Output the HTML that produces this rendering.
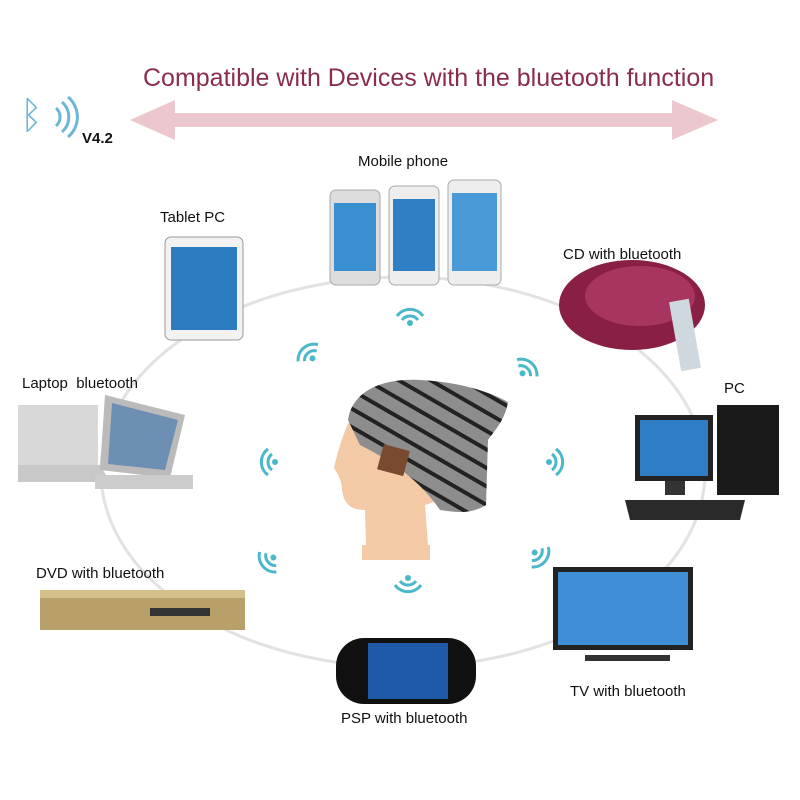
<!DOCTYPE html>
<html><head><meta charset="utf-8"><style>
body{margin:0;width:800px;height:800px;background:#fff;position:relative;overflow:hidden;font-family:"Liberation Sans",sans-serif}
.l{position:absolute;font-size:15px;color:#111;white-space:pre}
.a{position:absolute}
</style></head><body>
<svg class="a" style="left:0;top:0" width="800" height="800">
<defs>
<pattern id="st" width="16" height="16" patternUnits="userSpaceOnUse" patternTransform="rotate(30)"><rect width="16" height="16" fill="#8d8d8d"/><rect width="16" height="4" fill="#222"/></pattern>
<g id="w"><path d="M-8,4 A10,10 0 0 1 8,4" fill="none" stroke="#4bb8c9" stroke-width="3"/><path d="M-13,0 A16,16 0 0 1 13,0" fill="none" stroke="#4bb8c9" stroke-width="3"/><circle cx="0" cy="7" r="3" fill="#4bb8c9"/></g>
</defs>
<ellipse cx="403" cy="472" rx="302" ry="195" fill="none" stroke="#e2e2e2" stroke-width="3"/>
<polygon points="130,120 175,100 175,113 672,113 672,100 718,120 672,140 672,127 175,127 175,140" fill="#ecc8ce"/>
<text x="20" y="128" font-size="38" fill="#6fb6d6" font-family="DejaVu Sans">ᛒ</text>
<path d="M56,108 A12,12 0 0 1 56,126 M62,102 A20,20 0 0 1 62,132 M68,97 A26,26 0 0 1 68,137" fill="none" stroke="#6fb6d6" stroke-width="3"/>
<use href="#w" x="410" y="316"/><use href="#w" transform="translate(308,353) rotate(-40)"/><use href="#w" transform="translate(527,368) rotate(40)"/>
<use href="#w" transform="translate(268,462) rotate(-90)"/><use href="#w" transform="translate(556,462) rotate(90)"/>
<use href="#w" transform="translate(268,562) rotate(-130)"/><use href="#w" transform="translate(540,557) rotate(130)"/><use href="#w" transform="translate(408,585) rotate(180)"/>
<g><rect x="330" y="190" width="50" height="95" rx="6" fill="#ddd" stroke="#aaa"/><rect x="334" y="203" width="42" height="68" fill="#3a8fd0"/>
<rect x="389" y="186" width="50" height="99" rx="6" fill="#eee" stroke="#aaa"/><rect x="393" y="199" width="42" height="72" fill="#2f7fc4"/>
<rect x="448" y="180" width="53" height="105" rx="6" fill="#eee" stroke="#aaa"/><rect x="452" y="193" width="45" height="78" fill="#4a9ad8"/></g>
<rect x="165" y="237" width="78" height="103" rx="6" fill="#f2f2f2" stroke="#999"/><rect x="171" y="247" width="66" height="83" fill="#2d7cc0"/>
<ellipse cx="632" cy="305" rx="73" ry="45" fill="#8a1f45"/><ellipse cx="640" cy="296" rx="55" ry="30" fill="#a83560"/>
<rect x="675" y="300" width="20" height="70" fill="#cfd8de" transform="rotate(-10 685 335)"/>
<rect x="18" y="405" width="80" height="60" fill="#d8d8d8"/><polygon points="18,465 100,465 110,482 18,482" fill="#c8c8c8"/>
<polygon points="105,395 185,415 170,478 100,470" fill="#bbb"/><polygon points="112,403 178,420 165,470 108,464" fill="#6d8fb3"/><rect x="95" y="475" width="98" height="14" fill="#ccc"/>
<rect x="635" y="415" width="78" height="66" fill="#222"/><rect x="640" y="420" width="68" height="56" fill="#2f7dc4"/><rect x="665" y="481" width="20" height="14" fill="#333"/>
<rect x="717" y="405" width="62" height="90" fill="#1a1a1a"/><polygon points="625,500 745,500 740,520 630,520" fill="#2a2a2a"/>
<rect x="40" y="590" width="205" height="40" fill="#b8a06a"/><rect x="40" y="590" width="205" height="8" fill="#d4c08a"/><rect x="150" y="608" width="60" height="8" fill="#333"/>
<rect x="336" y="638" width="140" height="66" rx="28" fill="#111"/><rect x="368" y="643" width="80" height="56" fill="#1e5aa8"/>
<rect x="553" y="567" width="140" height="83" fill="#222"/><rect x="558" y="572" width="130" height="73" fill="#3f8fd6"/><rect x="585" y="655" width="85" height="6" fill="#333"/>
<!-- head -->
<path d="M352,415 C340,440 336,460 334,468 C338,475 342,480 342,490 C344,505 352,510 365,510 L366,545 L362,545 L362,560 L430,560 L430,545 L428,545 L425,505 L440,500 L440,420 Z" fill="#f3c9a6"/>
<path d="M348,420 C352,392 380,378 420,380 C460,382 490,392 508,402 C505,420 495,430 488,440 L486,505 C470,515 455,512 440,510 C420,480 390,460 360,445 Z" fill="url(#st)"/>
<rect x="380" y="447" width="27" height="26" fill="#7a4a30" transform="rotate(15 393 460)"/>
</svg>
<div class="l" style="left:143px;top:64px;font-size:25px;color:#8a2c4e">Compatible with Devices with the bluetooth function</div>
<div class="l" style="left:82px;top:130px;font-weight:bold;font-size:15px">V4.2</div>
<div class="l" style="left:358px;top:153px">Mobile phone</div>
<div class="l" style="left:160px;top:209px">Tablet PC</div>
<div class="l" style="left:563px;top:246px">CD with bluetooth</div>
<div class="l" style="left:22px;top:375px">Laptop  bluetooth</div>
<div class="l" style="left:724px;top:380px">PC</div>
<div class="l" style="left:36px;top:565px">DVD with bluetooth</div>
<div class="l" style="left:570px;top:683px">TV with bluetooth</div>
<div class="l" style="left:341px;top:710px">PSP with bluetooth</div>
</body></html>
